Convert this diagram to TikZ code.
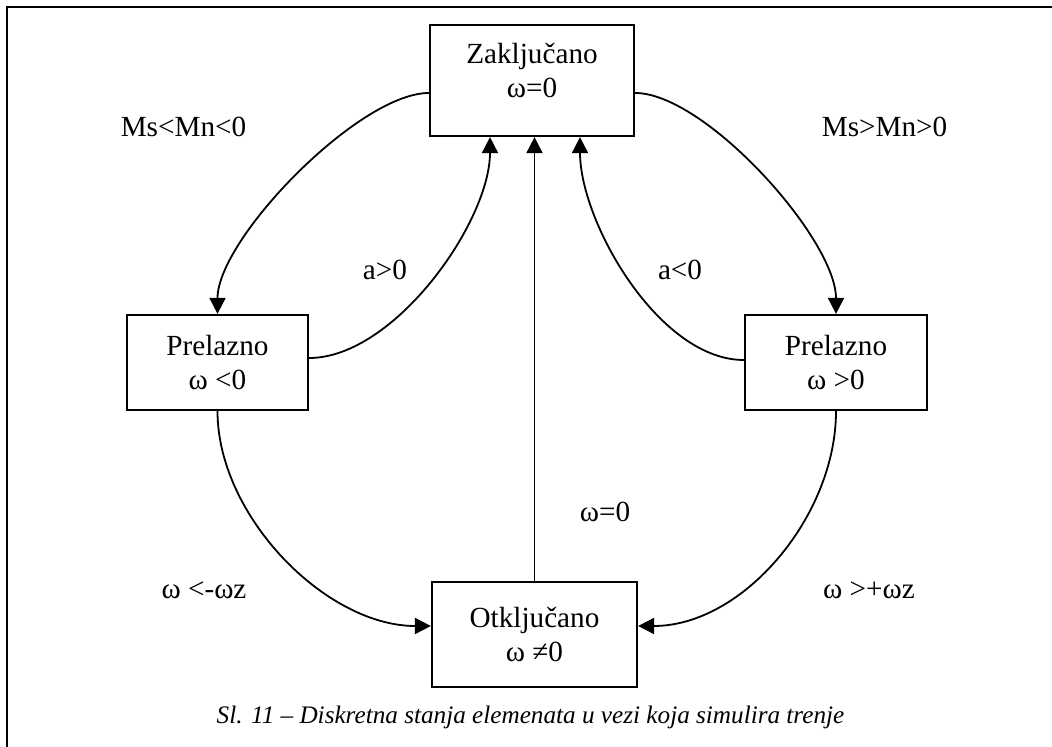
\documentclass[tikz,border=0pt]{standalone}
\usepackage{fontspec}
\setmainfont{Liberation Serif}
\usetikzlibrary{arrows.meta}

\begin{document}
\begin{tikzpicture}[x=0.5pt,y=-0.5pt,
  state/.style={draw,line width=1.1pt,align=center,inner sep=0pt,font=\fontsize{14.6}{17}\selectfont},
  lbl/.style={inner sep=0pt,anchor=base,font=\fontsize{14.6}{17}\selectfont},
  veza/.style={line width=0.9pt,-{Triangle[length=8pt,width=8pt]}}]
 \useasboundingbox (0,0) rectangle (1052,747);
 \draw[line width=1.1pt] (7,747) -- (7,7) -- (1052,7);

 \node[state,minimum width=102pt,minimum height=55.5pt] (zak) at (532,80.5) {};
 \node[lbl,anchor=center,align=center] (zaktxt) at (532,70) {Zaključano\\ω=0};
 \node[state,minimum width=90.5pt,minimum height=47.5pt] (prel) at (217.5,362.5) {Prelazno\\ω <0};
 \node[state,minimum width=91pt,minimum height=47.5pt] (prer) at (836,362.5) {Prelazno\\ω >0};
 \node[state,minimum width=102.5pt,minimum height=52.5pt] (otk) at (534.5,634.5) {Otključano\\ω ≠0};

 \draw[veza] ([yshift=-6.25pt]zak.west) .. controls +(-70,0) and +(0,-75) .. (prel.north);
 \draw[veza] ([yshift=2.25pt]prel.east) .. controls +(85,0) and +(0,85) .. ([xshift=-21pt]zak.south);
 \draw[veza] (otk.north) -- (otk.north |- zak.south);
 \draw[veza] ([yshift=1.25pt]prer.west) .. controls +(-85,0) and +(0,85) .. ([xshift=24pt]zak.south);
 \draw[veza] ([yshift=-6.25pt]zak.east) .. controls +(70,0) and +(0,-75) .. (prer.north);
 \draw[veza] (prel.south) .. controls +(0,105) and +(-105,0) .. ([yshift=4.25pt]otk.west);
 \draw[veza] (prer.south) .. controls +(0,105) and +(105,0) .. ([yshift=4.25pt]otk.east);

 \node[lbl] (msl) at (183.5,137) {Ms<Mn<0};
 \node[lbl] (msr) at (884.5,137) {Ms>Mn>0};
 \node[lbl] (agt) at (385,280) {a>0};
 \node[lbl] (alt) at (680,280) {a<0};
 \node[lbl] (wnula) at (605,521.5) {ω=0};
 \node[lbl] (wneg) at (204,598) {ω <-ωz};
 \node[lbl] (wpos) at (869,598) {ω >+ωz};
 \node[lbl,font=\fontsize{12.6}{15}\selectfont\itshape] (cap) at (530.5,723) {Sl. 11 – Diskretna stanja elemenata u vezi koja simulira trenje};
\end{tikzpicture}
\end{document}
